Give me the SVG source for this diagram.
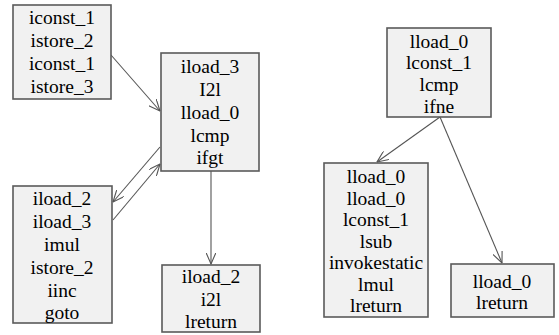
<svg xmlns="http://www.w3.org/2000/svg" width="559" height="335" viewBox="0 0 559 335">
  <defs>
    <marker id="arr" viewBox="0 0 12 10" refX="11.5" refY="5" markerWidth="12" markerHeight="10" markerUnits="userSpaceOnUse" orient="auto">
      <path d="M0,0 L11.5,5 L0,10" fill="none" stroke="#555" stroke-width="1.1"/>
    </marker>
  </defs>
  <rect width="559" height="335" fill="#ffffff"/>

  <!-- control-flow edges between basic blocks -->
  <g id="connectors" stroke="#555" stroke-width="1.1" fill="none" marker-end="url(#arr)">
    <line x1="111" y1="55" x2="160" y2="111"/>
    <line x1="160" y1="147" x2="113" y2="202"/>
    <line x1="113" y1="220" x2="160" y2="164"/>
    <line x1="211" y1="171" x2="211" y2="264"/>
    <line x1="440" y1="117" x2="377" y2="162"/>
    <line x1="440" y1="117" x2="502" y2="263"/>
  </g>

  <g id="n_init">
    <rect x="13" y="5" width="98" height="94" fill="#f1f1f1" stroke="#5a5a5a" stroke-width="1.6"/>
    <text font-family="Times New Roman" font-size="19.5" text-anchor="middle" x="62" y="24">iconst_1</text>
    <text font-family="Times New Roman" font-size="19.5" text-anchor="middle" x="62" y="47">istore_2</text>
    <text font-family="Times New Roman" font-size="19.5" text-anchor="middle" x="62" y="70">iconst_1</text>
    <text font-family="Times New Roman" font-size="19.5" text-anchor="middle" x="62" y="93">istore_3</text>
  </g>

  <g id="n_cond">
    <rect x="161" y="53" width="98" height="118" fill="#f1f1f1" stroke="#5a5a5a" stroke-width="1.6"/>
    <text font-family="Times New Roman" font-size="19.5" text-anchor="middle" x="210" y="73">iload_3</text>
    <text font-family="Times New Roman" font-size="19.5" text-anchor="middle" x="210" y="96">I2l</text>
    <text font-family="Times New Roman" font-size="19.5" text-anchor="middle" x="210" y="119">lload_0</text>
    <text font-family="Times New Roman" font-size="19.5" text-anchor="middle" x="210" y="142">lcmp</text>
    <text font-family="Times New Roman" font-size="19.5" text-anchor="middle" x="210" y="164">ifgt</text>
  </g>

  <g id="n_loop">
    <rect x="13" y="186" width="99" height="137" fill="#f1f1f1" stroke="#5a5a5a" stroke-width="1.6"/>
    <text font-family="Times New Roman" font-size="19.5" text-anchor="middle" x="62" y="205">iload_2</text>
    <text font-family="Times New Roman" font-size="19.5" text-anchor="middle" x="62" y="228">iload_3</text>
    <text font-family="Times New Roman" font-size="19.5" text-anchor="middle" x="62" y="251">imul</text>
    <text font-family="Times New Roman" font-size="19.5" text-anchor="middle" x="62" y="274">istore_2</text>
    <text font-family="Times New Roman" font-size="19.5" text-anchor="middle" x="62" y="297">iinc</text>
    <text font-family="Times New Roman" font-size="19.5" text-anchor="middle" x="62" y="319">goto</text>
  </g>

  <g id="n_ret1">
    <rect x="162" y="265" width="98" height="67" fill="#f1f1f1" stroke="#5a5a5a" stroke-width="1.6"/>
    <text font-family="Times New Roman" font-size="19.5" text-anchor="middle" x="211" y="283">iload_2</text>
    <text font-family="Times New Roman" font-size="19.5" text-anchor="middle" x="211" y="306">i2l</text>
    <text font-family="Times New Roman" font-size="19.5" text-anchor="middle" x="211" y="328">lreturn</text>
  </g>

  <g id="n_test">
    <rect x="387" y="28" width="104" height="89" fill="#f1f1f1" stroke="#5a5a5a" stroke-width="1.6"/>
    <text font-family="Times New Roman" font-size="19.5" text-anchor="middle" x="439" y="48">lload_0</text>
    <text font-family="Times New Roman" font-size="19.5" text-anchor="middle" x="439" y="69">lconst_1</text>
    <text font-family="Times New Roman" font-size="19.5" text-anchor="middle" x="439" y="91">lcmp</text>
    <text font-family="Times New Roman" font-size="19.5" text-anchor="middle" x="439" y="113">ifne</text>
  </g>

  <g id="n_recurse">
    <rect x="324" y="163" width="104" height="154" fill="#f1f1f1" stroke="#5a5a5a" stroke-width="1.6"/>
    <text font-family="Times New Roman" font-size="19.5" text-anchor="middle" x="376" y="183">lload_0</text>
    <text font-family="Times New Roman" font-size="19.5" text-anchor="middle" x="376" y="205">lload_0</text>
    <text font-family="Times New Roman" font-size="19.5" text-anchor="middle" x="376" y="226">lconst_1</text>
    <text font-family="Times New Roman" font-size="19.5" text-anchor="middle" x="376" y="248">lsub</text>
    <text font-family="Times New Roman" font-size="19.5" text-anchor="middle" x="376" y="269">invokestatic</text>
    <text font-family="Times New Roman" font-size="19.5" text-anchor="middle" x="376" y="291">lmul</text>
    <text font-family="Times New Roman" font-size="19.5" text-anchor="middle" x="376" y="312">lreturn</text>
  </g>

  <g id="n_ret2">
    <rect x="451" y="264" width="103" height="53" fill="#f1f1f1" stroke="#5a5a5a" stroke-width="1.6"/>
    <text font-family="Times New Roman" font-size="19.5" text-anchor="middle" x="502" y="288">lload_0</text>
    <text font-family="Times New Roman" font-size="19.5" text-anchor="middle" x="502" y="309">lreturn</text>
  </g>
</svg>
